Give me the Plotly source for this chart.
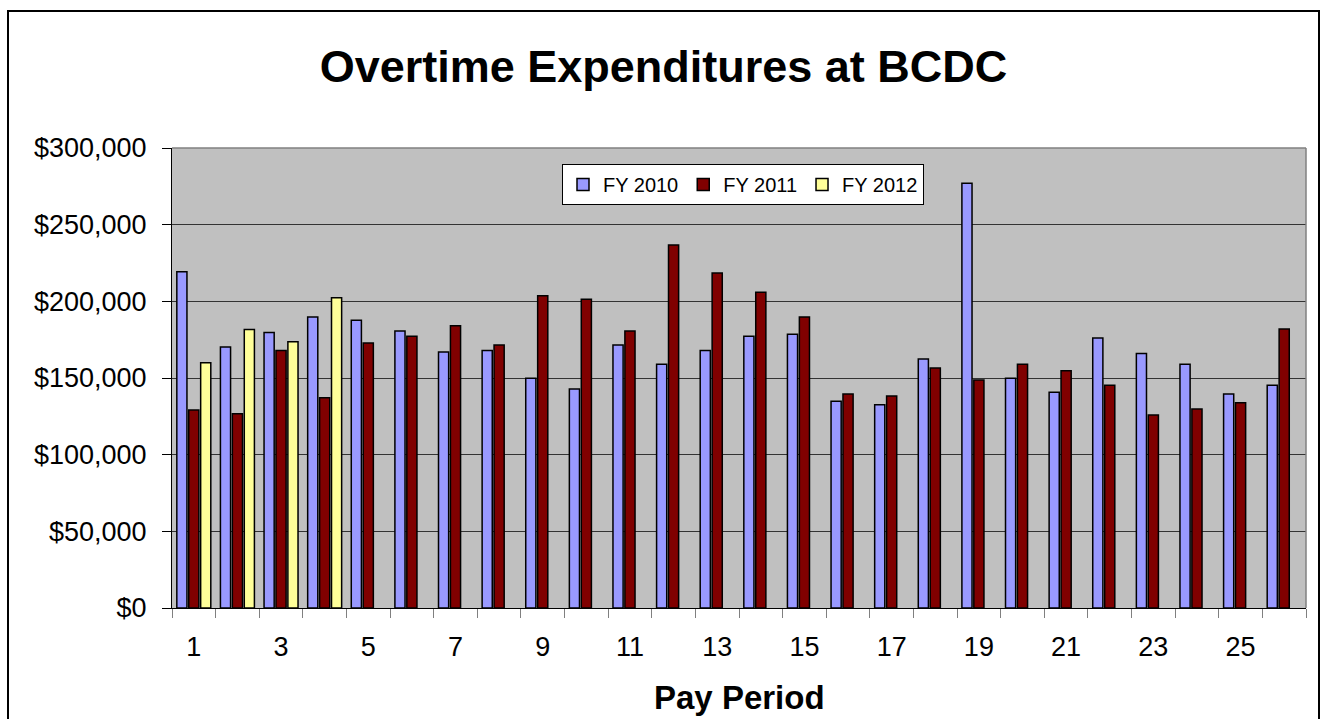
import plotly.graph_objects as go

periods = list(range(1, 27))
fy2010 = [219300, 170200, 179600, 189800, 187600, 180700, 167000, 168000, 149800, 142800,
          171500, 158900, 168000, 177200, 178500, 134800, 132600, 162400, 277000, 149800,
          140700, 176100, 165900, 158900, 139600, 145200]
fy2011 = [129100, 126700, 168000, 137200, 172800, 177200, 184100, 171500, 203700, 201300,
          180700, 236700, 218500, 205900, 189800, 139600, 138300, 156500, 148700, 158900,
          154800, 145200, 125900, 129800, 133900, 182000]
fy2012 = [160000, 181700, 173700, 202400] + [None] * 22
series_names = ["FY 2010", "FY 2011", "FY 2012"]
series_colors = ["#9999FF", "#800000", "#FFFF99"]
x_ticks = list(range(1, 27, 2))
y_ticks = [0, 50000, 100000, 150000, 200000, 250000, 300000]
y_tick_text = ["$0", "$50,000", "$100,000", "$150,000", "$200,000", "$250,000", "$300,000"]

FONT = "Liberation Sans, Arial, sans-serif"

fig = go.Figure()
for name, vals, col in zip(series_names, [fy2010, fy2011, fy2012], series_colors):
    fig.add_trace(go.Bar(x=periods, y=vals, name=name,
                         marker=dict(color=col, line=dict(color="black", width=1.5))))

W, H = 1323, 719
L, R, T, B = 172, 17, 148, 111
pw, ph = W - L - R, H - T - B

def px_x(x):
    return (x - L) / pw

def px_y(y):
    return (H - B - y) / ph

fig.update_layout(
    width=W, height=H,
    margin=dict(l=L, r=R, t=T, b=B),
    paper_bgcolor="white",
    plot_bgcolor="#C0C0C0",
    barmode="group",
    bargap=0.18,
    bargroupgap=0.15,
    font=dict(family=FONT, color="black"),
    title=dict(text="<b>Overtime Expenditures at BCDC</b>",
               font=dict(family=FONT, size=45, color="black"),
               x=663.5 / W, xanchor="center", xref="container",
               y=1 - 66 / H, yanchor="middle", yref="container"),
    legend=dict(orientation="h", x=px_x(562), y=px_y(164), xanchor="left", yanchor="top",
                bgcolor="white", bordercolor="black", borderwidth=1,
                font=dict(family=FONT, size=20, color="black"),
                itemwidth=30, traceorder="normal"),
    showlegend=True,
)

fig.update_xaxes(
    range=[0.5, 26.5],
    tickmode="array", tickvals=x_ticks, ticktext=[str(v) for v in x_ticks],
    ticks="outside", ticklen=9, tickcolor="rgba(0,0,0,0)",
    tickfont=dict(family=FONT, size=27, color="black"),
    ticklabelstandoff=6,
    showline=True, linecolor="black", linewidth=1,
    showgrid=False, zeroline=False,
    minor=dict(tickmode="array", tickvals=[i + 0.5 for i in range(0, 27)],
               ticks="outside", ticklen=9, tickcolor="#808080", tickwidth=1, showgrid=False),
)

fig.update_yaxes(
    range=[0, 300000],
    tickmode="array", tickvals=y_ticks, ticktext=y_tick_text,
    ticks="outside", ticklen=9, tickcolor="black", tickwidth=1,
    tickfont=dict(family=FONT, size=27, color="black"),
    ticklabelstandoff=10,
    showline=True, linecolor="black", linewidth=1,
    showgrid=True, gridcolor="#333333", gridwidth=1,
    zeroline=False,
)

fig.add_annotation(text="<b>Pay Period</b>", xref="paper", yref="paper",
                   x=px_x(739), y=px_y(697), xanchor="center", yanchor="middle",
                   showarrow=False, font=dict(family=FONT, size=33, color="black"))

# plot area top/right border (gray)
fig.add_shape(type="line", xref="paper", yref="paper", x0=0, x1=1, y0=1, y1=1,
              line=dict(color="#808080", width=1.5), layer="above")
fig.add_shape(type="line", xref="paper", yref="paper", x0=1, x1=1, y0=0, y1=1,
              line=dict(color="#808080", width=1.5), layer="above")
# chart outer border
fig.add_shape(type="rect", xref="paper", yref="paper",
              x0=px_x(8), x1=px_x(1319), y0=px_y(740), y1=px_y(11),
              line=dict(color="black", width=2), fillcolor="rgba(0,0,0,0)", layer="above")

fig.write_html("out.html")
